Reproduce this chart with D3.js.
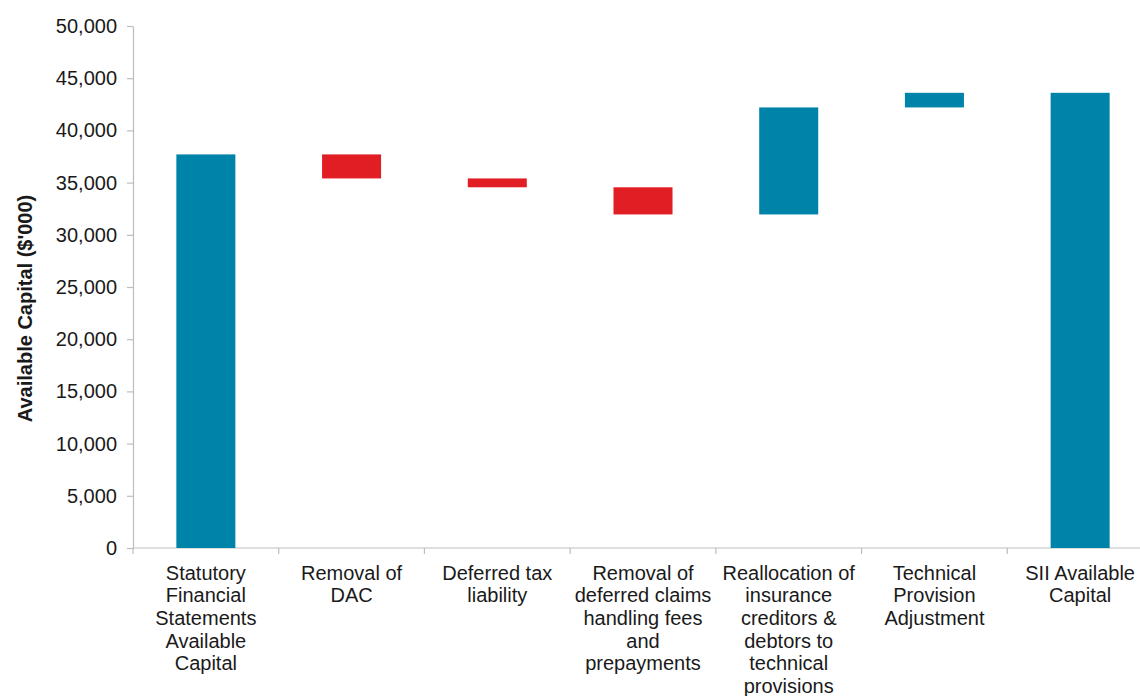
<!DOCTYPE html>
<html>
<head>
<meta charset="utf-8">
<script src="https://cdn.jsdelivr.net/npm/d3@7"></script>
<style>
  html, body { margin: 0; padding: 0; background: #fff; }
  svg text { font-family: "Liberation Sans", Arial, sans-serif; fill: #1a1a1a; }
</style>
</head>
<body>
<svg id="chart" width="1140" height="696"></svg>
<script>
// Waterfall steps from statutory capital to SII available capital ($'000)
const categories = [
  ["Statutory", "Financial", "Statements", "Available", "Capital"],
  ["Removal of", "DAC"],
  ["Deferred tax", "liability"],
  ["Removal of", "deferred claims", "handling fees", "and", "prepayments"],
  ["Reallocation of", "insurance", "creditors &", "debtors to", "technical", "provisions"],
  ["Technical", "Provision", "Adjustment"],
  ["SII Available", "Capital"]
];
// "total" steps start from zero; "delta" steps move from the running total
const stepTypes = ["total", "delta", "delta", "delta", "delta", "delta", "total"];
const stepValues = [37700, -2300, -850, -2600, 10250, 1400, 43600];
const yTicks = [0, 5000, 10000, 15000, 20000, 25000, 30000, 35000, 40000, 45000, 50000];
const yTitle = "Available Capital ($'000)";

const colorUp = "#0083A8";
const colorDown = "#E21E25";

const svg = d3.select("#chart");
const plotLeft = 133, plotRight = 1153, plotTop = 26, plotBottom = 548;

const y = d3.scaleLinear().domain([0, 50000]).range([plotBottom, plotTop]);
const keys = categories.map((c, i) => i);
const slot = d3.scaleBand().domain(keys).range([plotLeft, plotRight]).padding(0);
const x = d3.scaleBand().domain(keys).range([plotLeft, plotRight])
  .paddingInner(0.595).paddingOuter(0.2975);

// Running totals for each bar
let running = 0;
const bars = stepValues.map((v, i) => {
  let y0, y1;
  if (stepTypes[i] === "total") { y0 = 0; y1 = v; running = v; }
  else { y0 = running; y1 = running + v; running = y1; }
  return { i, y0, y1, up: stepTypes[i] === "total" || v >= 0 };
});

// Y axis
const yAxis = svg.append("g")
  .attr("transform", `translate(${plotLeft},0)`)
  .call(d3.axisLeft(y).tickValues(yTicks).tickFormat(d3.format(",")).tickSize(6).tickSizeOuter(0).tickPadding(10));
yAxis.select(".domain").attr("stroke", "#BDBDBD").attr("stroke-width", 1.2);
yAxis.selectAll(".tick line").attr("stroke", "#BDBDBD").attr("stroke-width", 1.2);
yAxis.selectAll(".tick text").attr("font-size", 20).attr("fill", "#1a1a1a")
  .style("font-family", "'Liberation Sans', Arial, sans-serif");

// X axis line and category boundary ticks
svg.append("line")
  .attr("x1", plotLeft).attr("x2", plotRight).attr("y1", y(0)).attr("y2", y(0))
  .attr("stroke", "#BDBDBD").attr("stroke-width", 1.2);
svg.selectAll(".xtick").data(keys.concat([keys.length])).enter().append("line")
  .attr("class", "xtick")
  .attr("x1", d => d < keys.length ? slot(d) : plotRight)
  .attr("x2", d => d < keys.length ? slot(d) : plotRight)
  .attr("y1", y(0)).attr("y2", y(0) + 6)
  .attr("stroke", "#BDBDBD").attr("stroke-width", 1.2);

// Bars
svg.selectAll(".bar").data(bars).enter().append("rect")
  .attr("class", "bar")
  .attr("x", d => x(d.i))
  .attr("width", x.bandwidth())
  .attr("y", d => y(Math.max(d.y0, d.y1)))
  .attr("height", d => Math.abs(y(d.y0) - y(d.y1)))
  .attr("fill", d => d.up ? colorUp : colorDown);

// Category labels
const labels = svg.selectAll(".xlabel").data(categories).enter().append("text")
  .attr("class", "xlabel")
  .attr("text-anchor", "middle")
  .attr("font-size", 20)
  .attr("x", (d, i) => x(i) + x.bandwidth() / 2)
  .attr("y", 579.5);
labels.selectAll("tspan").data(d => d).enter().append("tspan")
  .attr("x", function() { return d3.select(this.parentNode).attr("x"); })
  .attr("dy", (d, j) => j === 0 ? 0 : 22.7)
  .text(d => d);

// Y axis title
svg.append("text")
  .attr("transform", "translate(32,308.5) rotate(-90)")
  .attr("text-anchor", "middle")
  .attr("font-size", 20)
  .attr("font-weight", "bold")
  .text(yTitle);
</script>
</body>
</html>
